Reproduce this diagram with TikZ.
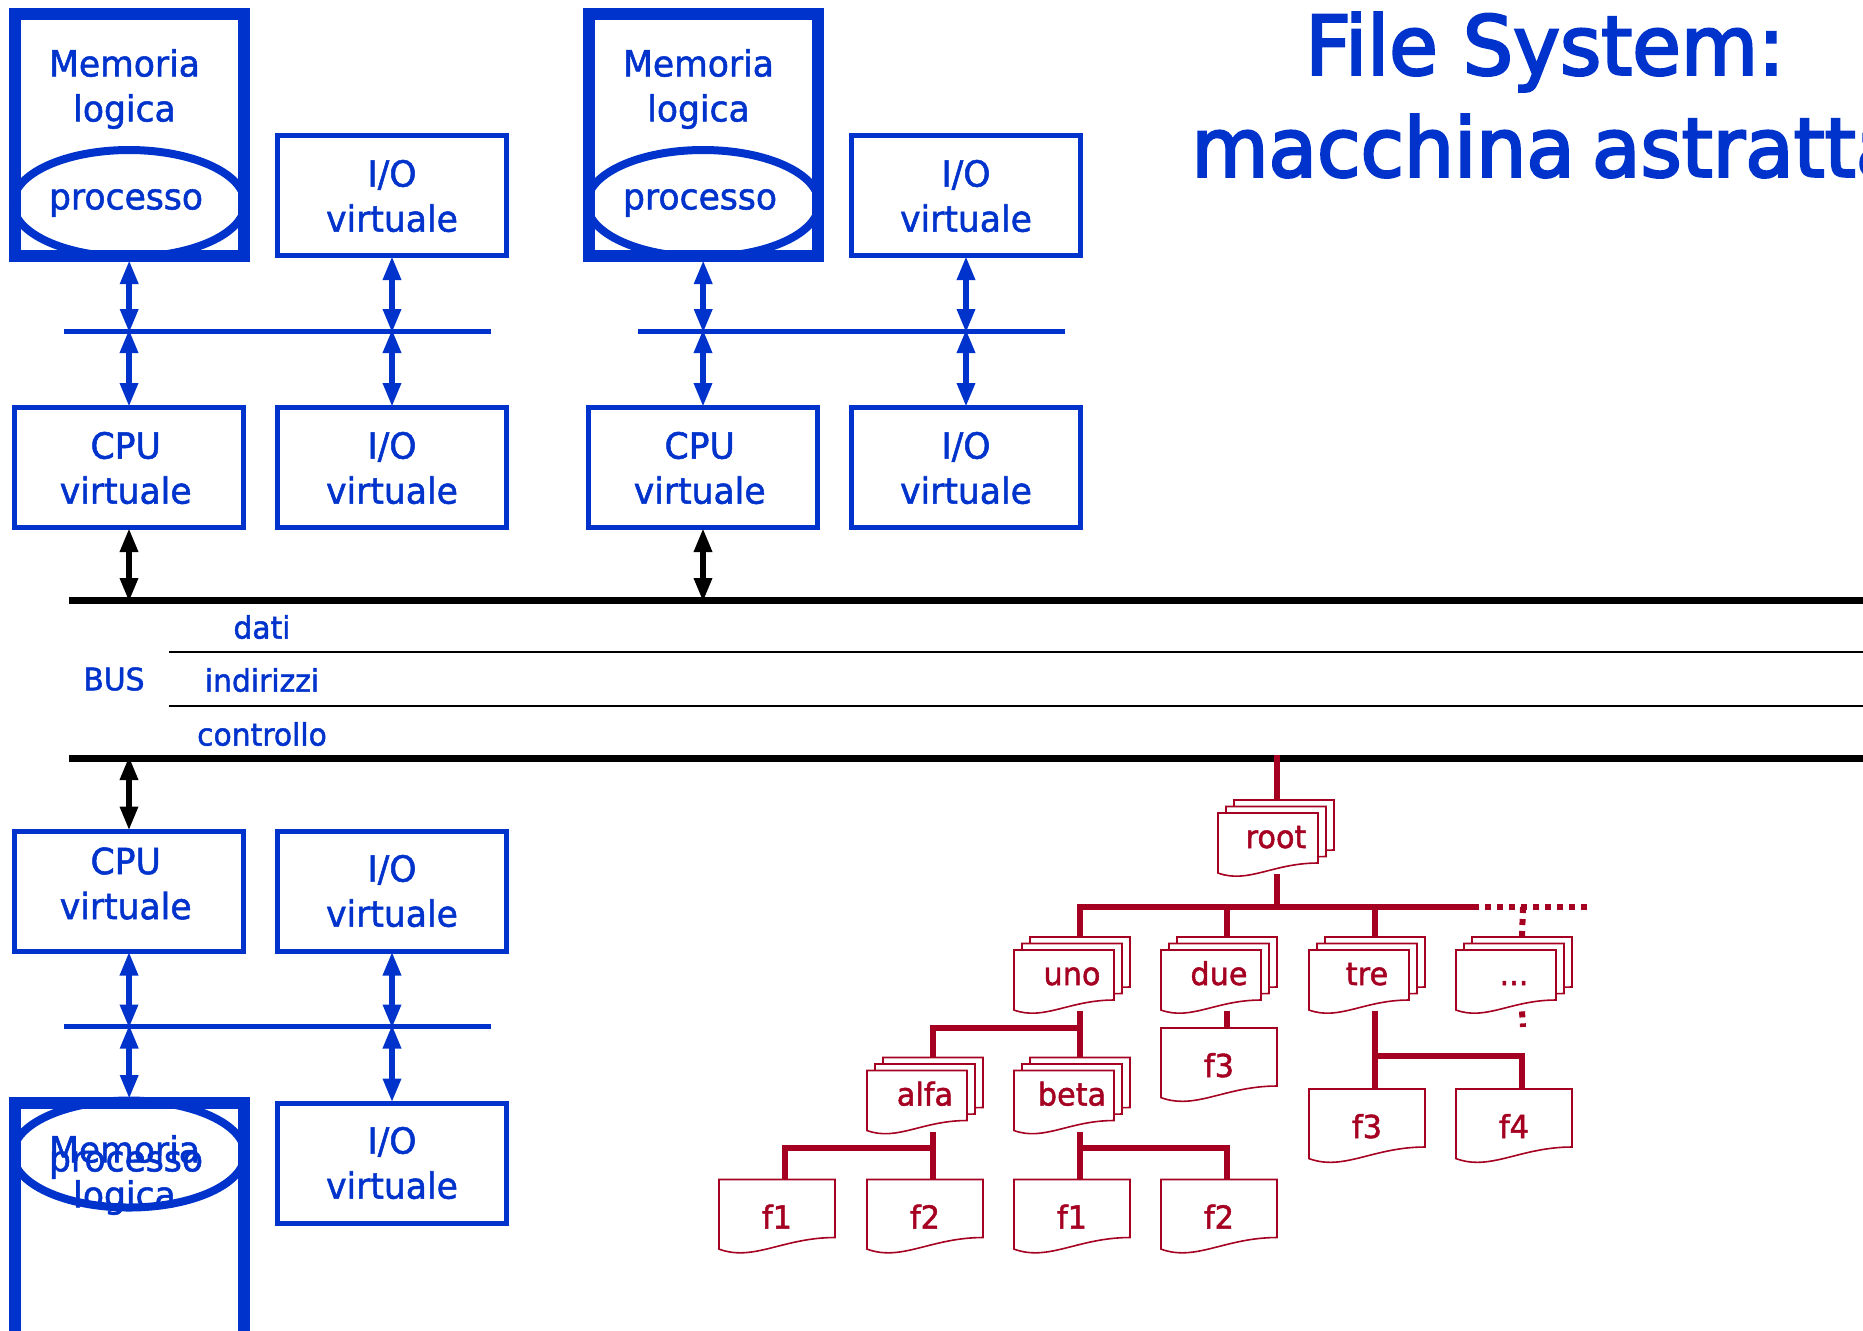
\documentclass[tikz,border=0pt]{standalone}
\usepackage{fontspec}
\setmainfont{DejaVu Sans}[FakeStretch=0.96,FakeBold=1.5]
\newfontfamily\titlefont{DejaVu Sans}[FakeStretch=0.965,FakeBold=3]
\usetikzlibrary{shapes.geometric,arrows.meta,backgrounds}
\definecolor{vmblue}{HTML}{0033CC}
\definecolor{fsred}{HTML}{A50021}
\tikzset{
  vmbox/.style={draw=vmblue,line width=2.5pt,minimum width=114.5pt,minimum height=60pt,inner sep=0pt},
  membox/.style={draw=vmblue,line width=6pt,minimum width=114.5pt,inner sep=0pt},
  procell/.style={ellipse,draw=vmblue,fill=white,line width=4pt,minimum width=116pt,minimum height=53.5pt,inner sep=0pt},
  vmtext/.style={text=vmblue,align=center,font=\fontsize{18}{22.5}\selectfont,inner sep=0pt},
  bustext/.style={text=vmblue,font=\fontsize{15.5}{17}\selectfont,inner sep=0pt},
  titletext/.style={text=vmblue,font=\titlefont\fontsize{41}{50}\selectfont,inner sep=0pt},
  vmbus/.style={draw=vmblue,line width=2.5pt},
  vmarrow/.style={draw=vmblue,line width=3pt,{Triangle[length=12pt,width=8.5pt]}-{Triangle[length=12pt,width=8.5pt]},shorten >=-1pt,shorten <=-1pt},
  hwarrow/.style={draw=black,line width=3pt,{Triangle[length=12pt,width=8.5pt]}-{Triangle[length=12pt,width=8.5pt]},shorten >=-1pt,shorten <=-1pt},
  hwbus/.style={draw=black,line width=3.5pt},
  hwline/.style={draw=black,line width=1.2pt},
  sheetline/.style={draw=fsred,fill=white,line width=0.8pt},
  docnode/.style={text=fsred,minimum width=58pt,minimum height=37pt,inner sep=0pt,text height=11pt,text depth=0pt,font=\fontsize{15.8}{18}\selectfont},
  treeline/.style={draw=fsred,line width=3pt},
  treedots/.style={draw=fsred,line width=3pt,dash pattern=on 3pt off 3pt}
}
\newcommand{\onesheet}[3]{\draw[sheetline,shift={(#1,#2)},scale=#3] (0,0) -- (100,0) -- (100,50) .. controls (55,50) and (30,71) .. (0,60) -- cycle;}
\newcommand{\docstack}[4]{
  \onesheet{#2-42}{#3-37}{1}
  \onesheet{#2-50}{#3-30.5}{1}
  \onesheet{#2-58}{#3-24}{1}
  \node[docnode] (#1) at (#2,#3) {#4};
}
\newcommand{\docfile}[4]{
  \onesheet{#2-58}{#3-38}{1.16}
  \node[docnode] (#1) at (#2,#3) {#4};
}
\begin{document}
\begin{tikzpicture}[x=0.5pt,y=-0.5pt]
\useasboundingbox (0,0) rectangle (1863,1330);
%titolo
\node[titletext] (titleA) at (1545,52) {File System:};
\node[titletext,anchor=west] (titleB) at (1191,146) {macchina\hspace{-4pt} astratta};
%i due gruppi in alto
\foreach \dx/\n in {0/A,574/B}{
  \node[procell] (proc\n) at (\dx+129,203.5) {};
  \node[membox,minimum height=121pt] (mem\n) at (\dx+129.2,135) {};
  \node[vmtext] (memt\n) at (\dx+124.5,89) {Memoria\\logica};
  \node[vmtext] (proct\n) at (\dx+126,203) {processo};
  \node[vmbox] (ioa\n) at (\dx+392,195.5) {};
  \node[vmtext] (ioat\n) at (\dx+392,196) {I/O\\virtuale};
  \node[vmbox] (cpu\n) at (\dx+129,467.5) {};
  \node[vmtext] (cput\n) at (\dx+125.7,468) {CPU\\virtuale};
  \node[vmbox] (iob\n) at (\dx+392,467.5) {};
  \node[vmtext] (iobt\n) at (\dx+392,468) {I/O\\virtuale};
  \coordinate (bus\n) at (\dx+64,331);
  \draw[vmbus] (bus\n) -- ++(427,0);
  \draw[vmarrow] (mem\n.south) -- (mem\n.south |- bus\n);
  \draw[vmarrow] (cpu\n.north) -- (cpu\n.north |- bus\n);
  \draw[vmarrow] (ioa\n.south) -- (ioa\n.south |- bus\n);
  \draw[vmarrow] (iob\n.north) -- (iob\n.north |- bus\n);
}
%gruppo in basso
\node[procell] (procC) at (129,1154) {};
\node[membox,minimum height=122pt] (memC) at (129.2,1225) {};
\node[vmtext] (memtC) at (124.5,1175) {Memoria\\logica};
\node[vmtext] (proctC) at (126,1165) {processo};
\node[vmbox] (cpuC) at (129,891) {};
\node[vmtext] (cputC) at (125.7,883.5) {CPU\\virtuale};
\node[vmbox] (ioaC) at (392,891) {};
\node[vmtext] (ioatC) at (392,891) {I/O\\virtuale};
\node[vmbox] (iobC) at (392,1163) {};
\node[vmtext] (iobtC) at (392,1163) {I/O\\virtuale};
\coordinate (busC) at (64,1026.5);
\draw[vmbus] (busC) -- ++(427,0);
\draw[vmarrow] (cpuC.south) -- (cpuC.south |- busC);
\draw[vmarrow] (memC.north) -- (memC.north |- busC);
\draw[vmarrow] (ioaC.south) -- (ioaC.south |- busC);
\draw[vmarrow] (iobC.north) -- (iobC.north |- busC);
%bus
\coordinate (busTop) at (69,600);
\coordinate (busBot) at (69,758);
\coordinate (lineA) at (169,652);
\coordinate (lineB) at (169,706);
\node[bustext] (busname) at (114,679) {BUS};
\node[bustext] (dati) at (262,627) {dati};
\node[bustext] (indirizzi) at (262,680) {indirizzi};
\node[bustext] (controllo) at (262,734) {controllo};
\draw[hwline] (lineA) -- ++(1700,0);
\draw[hwline] (lineB) -- ++(1700,0);
\draw[hwarrow] (cpuA.south) -- (cpuA.south |- busTop);
\draw[hwarrow] (cpuB.south) -- (cpuB.south |- busTop);
\draw[hwarrow] (cpuC.north) -- (cpuC.north |- busBot);
%file system
\docstack{root}{1276}{837}{root}
\docstack{uno}{1072}{974}{uno}
\docstack{due}{1219}{974}{due}
\docstack{tre}{1367}{974}{tre}
\docstack{altri}{1514}{974}{...}
\docstack{alfa}{925}{1094.5}{alfa}
\docstack{beta}{1072}{1094.5}{beta}
\docfile{fdue}{1219}{1066}{f3}
\docfile{fa}{1367}{1127}{f3}
\docfile{fb}{1514}{1127}{f4}
\docfile{fc}{777}{1217.5}{f1}
\docfile{fd}{925}{1217.5}{f2}
\docfile{fe}{1072}{1217.5}{f1}
\docfile{ff}{1219}{1217.5}{f2}
\coordinate (busRoot) at (1277,755);
\coordinate (rootBar) at (1277,907);
\coordinate (rootEnd) at (1473,907);
\coordinate (dotsEnd) at (1587,907);
\coordinate (dotsJoin) at (1523,907);
\coordinate (dotsLow) at (1523,1027);
\coordinate (unoBar) at (1080,1027.5);
\coordinate (alfaBar) at (933,1147.5);
\coordinate (betaBar) at (1080,1147.5);
\coordinate (treBar) at (1375,1056);
\begin{scope}[on background layer]
  \draw[hwbus] (busTop) -- ++(1800,0);
  \draw[hwbus] (busBot) -- ++(1800,0);
  \draw[treeline] (busRoot) -- (root.north -| busRoot);
  \draw[treeline] (root.south -| rootBar) -- (rootBar);
  \draw[treeline] ([xshift=4pt]uno.north) |- (rootEnd);
  \draw[treeline] ([xshift=4pt]due.north) -- ([xshift=4pt]due.north |- rootBar);
  \draw[treeline] ([xshift=4pt]tre.north) -- ([xshift=4pt]tre.north |- rootBar);
  \draw[treedots] (rootEnd) -- (dotsEnd);
  \draw[treedots] (dotsJoin) -- ([xshift=4pt]altri.north);
  \draw[treedots] ([xshift=4pt]altri.south) -- (dotsLow);
  \draw[treeline] ([xshift=4pt]uno.south) -- ([xshift=4pt]beta.north);
  \draw[treeline] (unoBar) -| ([xshift=4pt]alfa.north);
  \draw[treeline] ([xshift=4pt]due.south) -- ([xshift=4pt]fdue.north);
  \draw[treeline] ([xshift=4pt]tre.south) -- ([xshift=4pt]fa.north);
  \draw[treeline] (treBar) -| ([xshift=4pt]fb.north);
  \draw[treeline] ([xshift=4pt]alfa.south) -- ([xshift=4pt]fd.north);
  \draw[treeline] (alfaBar) -| ([xshift=4pt]fc.north);
  \draw[treeline] ([xshift=4pt]beta.south) -- ([xshift=4pt]fe.north);
  \draw[treeline] (betaBar) -| ([xshift=4pt]ff.north);
\end{scope}
\end{tikzpicture}
\end{document}
